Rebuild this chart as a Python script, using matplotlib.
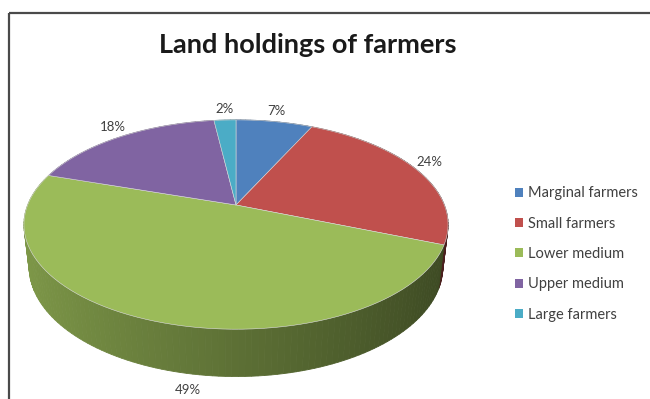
import numpy as np
import matplotlib.pyplot as plt
from matplotlib.patches import Polygon, Patch

# --- Data ---
categories = ["Marginal farmers", "Small farmers", "Lower medium", "Upper medium", "Large farmers"]
shares = [7, 24, 49, 18, 2]
colors = ["#4F81BD", "#C0504D", "#9BBB59", "#8064A2", "#4BACC6"]
title = "Land holdings of farmers"

# --- 3D pie geometry (pixel space) ---
cx, cy = 236, 205          # apex of the pie on screen
elev = np.radians(29)      # camera elevation
dist = 4.68                # camera distance (radius units)
focal = 975                # focal scale in px
thick = 0.234              # pie thickness (radius units)


def project(x, y, z):
    depth = dist + y * np.cos(elev) - z * np.sin(elev)
    u = x * focal / depth
    v = (y * np.sin(elev) + z * np.cos(elev)) * focal / depth
    return cx + u, cy - v


def shade(hex_color, k):
    rgb = np.array([int(hex_color[i:i + 2], 16) for i in (1, 3, 5)]) / 255
    return tuple(np.clip(rgb * k, 0, 1))


fig = plt.figure(figsize=(6.5, 3.99), dpi=100)
ax = fig.add_axes([0, 0, 1, 1])
ax.set_xlim(0, 650)
ax.set_ylim(399, 0)
ax.axis("off")

# slice angles, clockwise from the far side
bounds = np.concatenate([[0], np.cumsum(shares)]) / sum(shares) * 360

# side walls: small segments, far ones first
segments = []
for i, col in enumerate(colors):
    a0, a1 = bounds[i], bounds[i + 1]
    n = max(2, int((a1 - a0) / 1.5))
    th = np.radians(np.linspace(a0, a1, n + 1))
    for j in range(n):
        t0, t1 = th[j], th[j + 1]
        xs = np.sin([t0, t1, t1, t0])
        ys = np.cos([t0, t1, t1, t0])
        zs = np.array([0, 0, -thick, -thick])
        px, py = project(xs, ys, zs)
        tm = (t0 + t1) / 2
        k = 0.6 - 0.22 * np.sin(tm)
        segments.append((np.cos(tm), np.column_stack([px, py]), shade(col, k)))

for _, pts, c in sorted(segments, key=lambda s: -s[0]):
    ax.add_patch(Polygon(pts, closed=True, facecolor=c, edgecolor=c, lw=0.6))

# top faces
for i, col in enumerate(colors):
    a0, a1 = bounds[i], bounds[i + 1]
    th = np.radians(np.linspace(a0, a1, 80))
    px, py = project(np.sin(th), np.cos(th), np.zeros_like(th))
    pts = np.vstack([[cx, cy], np.column_stack([px, py])])
    ax.add_patch(Polygon(pts, closed=True, facecolor=col, edgecolor="#d8d8d8", lw=0.4))

# percentage labels: outside the rim, front label below the wall
_, wall_bottom = project(0.0, -1.0, -thick)
for i, s in enumerate(shares):
    mid = np.radians((bounds[i] + bounds[i + 1]) / 2)
    if np.cos(mid) < -0.5:
        lx, _ = project(0.62 * np.sin(mid), 0.62 * np.cos(mid), -thick)
        ly = wall_bottom + 7
        va = "top"
    else:
        lx, ly = project(1.07 * np.sin(mid), 1.07 * np.cos(mid), 0.0)
        va = "bottom"
    ax.text(lx, ly, f"{s}%", ha="center", va=va, fontsize=9.5,
            family="Lato", color="#404040")

ax.text(308, 45, title, ha="center", va="center", fontsize=19.5,
        fontweight="bold", family="Lato", color="#1a1a1a")

# outer frame (left and top edges)
ax.plot([9, 9], [13, 399], color="#4a4a4a", lw=1.6, solid_capstyle="butt")
ax.plot([9, 650], [13, 13], color="#4a4a4a", lw=1.6, solid_capstyle="butt")

handles = [Patch(facecolor=c, edgecolor="none") for c in colors]
leg = ax.legend(handles, categories, loc="upper left", bbox_to_anchor=(0.772, 0.566),
                frameon=False, handlelength=0.55, handleheight=0.55, handletextpad=0.35,
                labelspacing=1.12, prop={"family": "Lato", "size": 10.5})
for txt in leg.get_texts():
    txt.set_color("#404040")

fig.savefig("out.png", dpi=100)
